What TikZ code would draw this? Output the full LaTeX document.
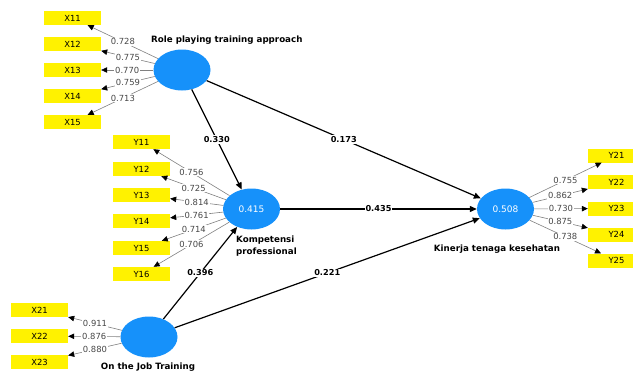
\documentclass[tikz,border=0pt]{standalone}
\usepackage{fontspec}
\setmainfont{DejaVu Sans}
\usetikzlibrary{shapes.geometric,arrows.meta}
\definecolor{latent}{RGB}{22,145,250}
\colorlet{indicator}{yellow}
\colorlet{loadtext}{black!72}

\begin{document}
\begin{tikzpicture}[x=1pt,y=-1pt,
  lv/.style={ellipse,fill=latent,minimum width=57pt,minimum height=41pt,inner sep=0pt,text=white,font=\fontsize{9}{10}\selectfont},
  ind/.style={rectangle,fill=indicator,minimum width=57pt,minimum height=14pt,inner sep=0pt,font=\fontsize{8.4}{9}\selectfont},
  lvname/.style={font=\fontsize{8.7}{12}\selectfont\bfseries,inner sep=0pt},
  loading/.style={draw=gray,line width=0.6pt,-{Triangle[length=6pt,width=5.5pt,black]}},
  coef/.style={draw=black,line width=1.2pt,-{Triangle[length=7pt,width=6pt]}},
  lval/.style={midway,fill=white,inner sep=0.8pt,text=loadtext,font=\fontsize{8.4}{9}\selectfont},
  cval/.style={midway,fill=white,inner sep=1pt,font=\fontsize{8.2}{9}\selectfont\bfseries}]
\clip (0,0) rectangle (633,372);

\node[lv] (role) at (182,70) {};
\node[lv] (komp) at (251.5,209) {0.415};
\node[lv] (kin) at (505.5,209) {0.508};
\node[lv] (ojt) at (149,337) {};

\node[lvname,anchor=west] (rolelab) at (151,40) {Role playing training approach};
\node[lvname,anchor=north west,align=left] (komplab) at (236,236) {Kompetensi\\professional};
\node[lvname] (kinlab) at (497,249.5) {Kinerja tenaga kesehatan};
\node[lvname] (ojtlab) at (148,367.5) {On the Job Training};

\node[ind] (x11) at (72.5,18) {X11};
\node[ind] (x12) at (72.5,44) {X12};
\node[ind] (x13) at (72.5,70) {X13};
\node[ind] (x14) at (72.5,96) {X14};
\node[ind] (x15) at (72.5,122) {X15};

\node[ind] (y11) at (141.5,142) {Y11};
\node[ind] (y12) at (141.5,169) {Y12};
\node[ind] (y13) at (141.5,195) {Y13};
\node[ind] (y14) at (141.5,221) {Y14};
\node[ind] (y15) at (141.5,248) {Y15};
\node[ind] (y16) at (141.5,274) {Y16};

\node[ind] (x21) at (39.5,310) {X21};
\node[ind] (x22) at (39.5,336) {X22};
\node[ind] (x23) at (39.5,362) {X23};

\node[ind] (y21) at (616.5,155.5) {Y21};
\node[ind] (y22) at (616.5,182) {Y22};
\node[ind] (y23) at (616.5,208.5) {Y23};
\node[ind] (y24) at (616.5,234.5) {Y24};
\node[ind] (y25) at (616.5,260.5) {Y25};

\draw[loading] (role) -- node[lval]{0.728} (x11);
\draw[loading] (role) -- node[lval]{0.775} (x12);
\draw[loading] (role) -- node[lval]{0.770} (x13);
\draw[loading] (role) -- node[lval]{0.759} (x14);
\draw[loading] (role) -- node[lval]{0.713} (x15);

\draw[loading] (komp) -- node[lval]{0.756} (y11);
\draw[loading] (komp) -- node[lval]{0.725} (y12);
\draw[loading] (komp) -- node[lval]{0.814} (y13);
\draw[loading] (komp) -- node[lval]{0.761} (y14);
\draw[loading] (komp) -- node[lval]{0.714} (y15);
\draw[loading] (komp) -- node[lval]{0.706} (y16);

\draw[loading] (ojt) -- node[lval]{0.911} (x21);
\draw[loading] (ojt) -- node[lval]{0.876} (x22);
\draw[loading] (ojt) -- node[lval]{0.880} (x23);

\draw[loading] (kin) -- node[lval]{0.755} (y21);
\draw[loading] (kin) -- node[lval]{0.862} (y22);
\draw[loading] (kin) -- node[lval]{0.730} (y23);
\draw[loading] (kin) -- node[lval]{0.875} (y24);
\draw[loading] (kin) -- node[lval]{0.738} (y25);

\draw[coef] (role) -- node[cval]{0.330} (komp);
\draw[coef] (role) -- node[cval]{0.173} (kin);
\draw[coef] (komp) -- node[cval]{0.435} (kin);
\draw[coef] (ojt) -- node[cval]{0.396} (komp);
\draw[coef] (ojt) -- node[cval]{0.221} (kin);
\end{tikzpicture}
\end{document}
